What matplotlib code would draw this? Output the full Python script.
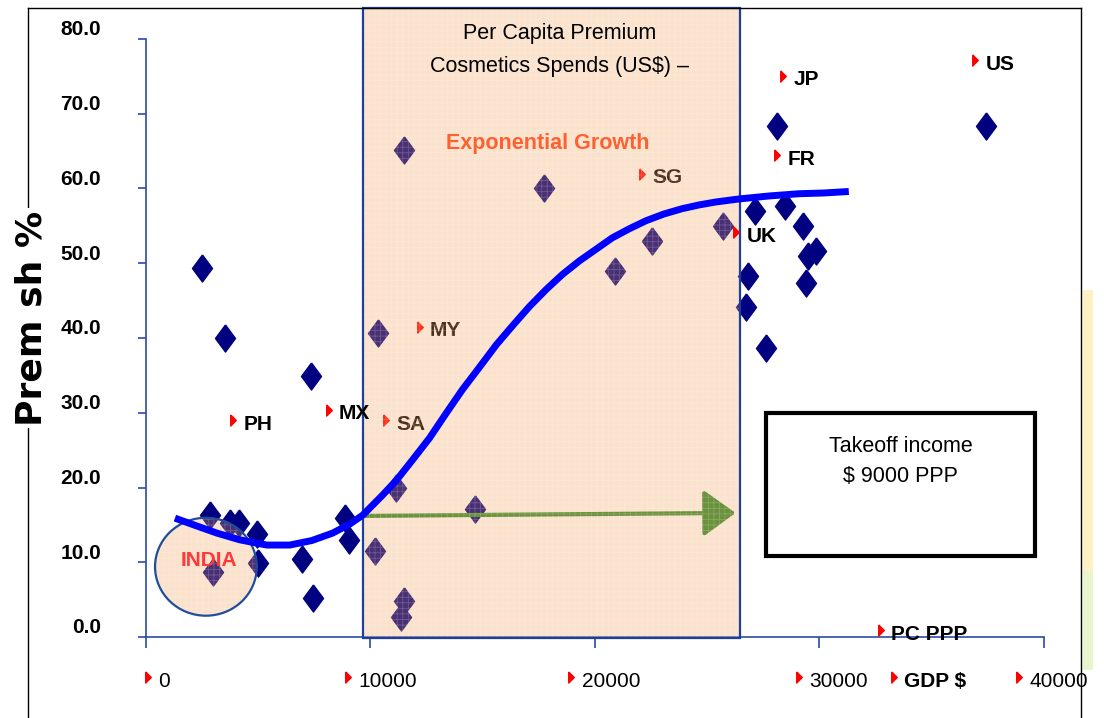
'''
Premium cosmetics share vs per capita GDP (PPP), with takeoff zone.
'''

import matplotlib
matplotlib.use('Agg')
import matplotlib.pyplot as plt
from matplotlib.patches import Rectangle, Ellipse
from matplotlib.lines import Line2D

plt.rcParams['font.family'] = ['Liberation Sans', 'DejaVu Sans']
plt.rcParams['hatch.linewidth'] = 0.6

# Country points: per capita GDP ($ PPP) vs premium share (%)
GDP = [2510, 3530, 7350, 2860, 3750, 4150, 4950, 3000, 5000, 6950, 7440,
       8860, 9080, 11520, 10370, 11170, 10230, 11520, 11390, 14670, 17740,
       20890, 22540, 25730, 28120, 27140, 28470, 29270, 26840, 26750, 27640,
       29860, 29500, 29390, 37400]
SHARE = [49.4, 40.0, 34.9, 16.3, 15.3, 15.3, 13.8, 8.7, 9.9, 10.4, 5.2,
         15.9, 13.0, 65.2, 40.7, 19.9, 11.5, 4.8, 2.7, 17.1, 60.1,
         48.9, 53.0, 55.0, 68.3, 57.0, 57.6, 55.0, 48.3, 44.2, 38.7,
         51.7, 51.0, 47.3, 68.3]

# S-shaped trend line
CURVE_X = [1310, 2240, 3180, 4200, 5400, 6420, 7400, 8330, 9090, 9670,
           10560, 11180, 11890, 12640, 13400, 14110, 14870, 15620, 16330,
           17090, 17840, 18560, 19310, 20070, 20780, 21530, 22290, 23090,
           23890, 24640, 25400, 26420, 27760, 29090, 30200, 31310]
CURVE_Y = [15.9, 14.9, 13.9, 13.0, 12.3, 12.3, 12.9, 13.9, 15.1, 16.3,
           19.0, 21.0, 23.7, 26.6, 30.0, 33.1, 36.1, 39.1, 41.6,
           44.2, 46.5, 48.5, 50.3, 51.9, 53.4, 54.6, 55.7, 56.6,
           57.3, 57.8, 58.2, 58.6, 59.0, 59.3, 59.4, 59.6]

# country tags (outside / inside the shaded zone)
TAGS_OUT = ['PH', 'MX', 'UK', 'FR', 'JP', 'US']
TAGS_OUT_X = [3890, 8150, 26290, 28110, 28370, 36950]
TAGS_OUT_Y = [29.0, 30.4, 54.2, 64.5, 75.1, 77.2]
TAGS_IN = ['SA', 'MY', 'SG']
TAGS_IN_X = [10690, 12200, 22110]
TAGS_IN_Y = [29.0, 41.5, 62.0]

XTICKS = [0, 10000, 20000, 30000, 40000]
YTICKS = [0, 10, 20, 30, 40, 50, 60, 70, 80]
XLABELS = ['0', '10000', '20000', '30000', 'GDP $', '40000']
XLABEL_POS = [110, 9000, 18950, 29090, 33300, 38870]

TAKEOFF_RANGE = (9700, 26470)
TAKEOFF_LEVEL = 16.2

NAVY = '#000080'
AXIS_BLUE = '#2B4BA5'
PEACH = '#F5A05A'

DIAMOND = [(0, 1), (0.74, 0), (0, -1), (-0.74, 0), (0, 1)]
TRIANGLE = [(-0.5, 1), (0.5, 0), (-0.5, -1), (-0.5, 1)]


def bullet(ax, x, y, text, z=6, weight='bold', size=15):
    '''
    Draws a small red triangle followed by a label.
    '''
    ax.plot([x], [y], marker=TRIANGLE, color='red', markersize=8,
            linestyle='none', zorder=z, clip_on=False)
    ax.annotate(text, (x, y), xytext=(7.5, -3), textcoords='offset points',
                ha='left', va='center', fontsize=size, fontweight=weight,
                color='black', zorder=z, annotation_clip=False)


def overlay(ax, patch_cls, *args, edge='#1F3F9F', **kw):
    '''
    Semi transparent peach patch with a fine light grid, like the slide fill.
    '''
    ax.add_patch(patch_cls(*args, facecolor=PEACH, alpha=0.3,
                           edgecolor='none', zorder=3, clip_on=False, **kw))
    ax.add_patch(patch_cls(*args, facecolor='none',
                           edgecolor=(1, 1, 1, 0.2), hatch='+++',
                           linewidth=0, zorder=3.1, clip_on=False, **kw))
    ax.add_patch(patch_cls(*args, facecolor='none', edgecolor=edge,
                           linewidth=1.6, zorder=3.2, clip_on=False, **kw))


def main():
    fig = plt.figure(figsize=(11.04, 7.18), dpi=100)
    ax = fig.add_axes([145.5 / 1104, 81 / 718, 898.5 / 1104, 598 / 718])
    ax.set_xlim(0, 40000)
    ax.set_ylim(0, 80)

    # points and things under the shaded zone
    ax.plot(GDP, SHARE, marker=DIAMOND, markersize=19.5, color=NAVY,
            linestyle='none', zorder=2, clip_on=False)
    ax.annotate('', xy=(TAKEOFF_RANGE[1] - 200, TAKEOFF_LEVEL + 0.4),
                xytext=(TAKEOFF_RANGE[0] - 150, TAKEOFF_LEVEL),
                arrowprops=dict(arrowstyle='-|>,head_length=1.0,head_width=0.72',
                                color='#2E8B2E', lw=3, mutation_scale=20,
                                shrinkA=0, shrinkB=0), zorder=2)
    for t, x, y in zip(TAGS_IN, TAGS_IN_X, TAGS_IN_Y):
        bullet(ax, x, y, t, z=2)

    # shaded zone and India circle
    x0, x1 = TAKEOFF_RANGE
    overlay(ax, Rectangle, (x0, -0.2), x1 - x0, 84.4)
    overlay(ax, Ellipse, (2690, 9.4), 4530, 13.1, edge='#1F4E9A')

    ax.text(17890, 66.0, 'Exponential Growth', color='#FF6030', fontsize=15.5,
            fontweight='bold', ha='center', va='center', zorder=4)
    ax.text(2820, 10.3, 'INDIA', color='#FF3838', fontsize=15,
            fontweight='bold', ha='center', va='center', zorder=4)

    # trend line and labels on top
    ax.plot(CURVE_X, CURVE_Y, color='#0000FF', lw=5, zorder=5,
            solid_capstyle='butt', solid_joinstyle='round')
    for t, x, y in zip(TAGS_OUT, TAGS_OUT_X, TAGS_OUT_Y):
        bullet(ax, x, y, t)
    bullet(ax, 32730, 0.94, 'PC PPP')

    ax.text(18420, 80.7, 'Per Capita Premium', fontsize=15.5,
            ha='center', va='center', zorder=6, clip_on=False)
    ax.text(18420, 76.3, 'Cosmetics Spends (US$) \u2013', fontsize=15.5,
            ha='center', va='center', zorder=6, clip_on=False)

    # takeoff box
    ax.add_patch(Rectangle((27620, 10.85), 12000, 19.15, facecolor='white',
                           edgecolor='black', linewidth=3, zorder=4))
    ax.text(33620, 25.5, 'Takeoff income', fontsize=15.5, ha='center',
            va='center', zorder=6)
    ax.text(33620, 21.5, '$ 9000 PPP', fontsize=15.5, ha='center',
            va='center', zorder=6)

    # axes
    for s in ['top', 'right']:
        ax.spines[s].set_visible(False)
    for s in ['left', 'bottom']:
        ax.spines[s].set_color(AXIS_BLUE)
        ax.spines[s].set_linewidth(1.2)
    ax.set_xticks(XTICKS)
    ax.set_yticks(YTICKS)
    ax.tick_params(axis='x', direction='out', length=8, color=AXIS_BLUE,
                   width=1.2, labelbottom=False)
    ax.tick_params(axis='y', direction='out', length=6, color=AXIS_BLUE,
                   width=1.2, labelleft=False)
    for v in YTICKS:
        ax.annotate('%.1f' % v, (0, v), xycoords=('axes fraction', 'data'),
                    xytext=(-32, 6.5), textcoords='offset points',
                    ha='right', va='center', fontsize=15, fontweight='bold',
                    annotation_clip=False)
    for t, x in zip(XLABELS, XLABEL_POS):
        bullet(ax, x, -5.4, t, weight='bold' if t == 'GDP $' else 'normal')

    # slide frame and side decoration
    fx0, fx1, fy1 = 28 / 1104, 1081 / 1104, 1 - 8 / 718
    for xs, ys in [([fx0, fx0], [0, fy1]), ([fx0, fx1], [fy1, fy1]),
                   ([fx1, fx1], [fy1, 0])]:
        fig.add_artist(Line2D(xs, ys, transform=fig.transFigure,
                              color='black', lw=1, zorder=10))
    fig.patches.append(Rectangle((1083 / 1104, 1 - 570 / 718), 10 / 1104,
                                 280 / 718, transform=fig.transFigure,
                                 facecolor='#FFF1C2', edgecolor='none'))
    fig.patches.append(Rectangle((1083 / 1104, 1 - 670 / 718), 10 / 1104,
                                 100 / 718, transform=fig.transFigure,
                                 facecolor='#EBF5CD', edgecolor='none'))

    fig.text(32 / 1104, 1 - 318 / 718, 'Prem sh %', rotation=90,
             fontsize=26, fontweight='bold', family='DejaVu Sans',
             ha='center', va='center', zorder=11,
             bbox=dict(facecolor='white', edgecolor='none', pad=2))

    fig.savefig('out.png', dpi=100)


if __name__ == '__main__':
    main()
